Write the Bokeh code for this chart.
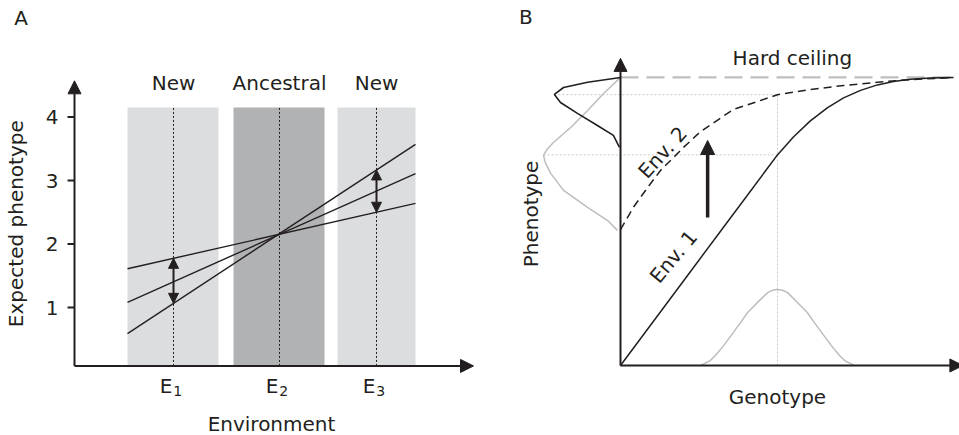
import numpy as np
from bokeh.plotting import figure
from bokeh.layouts import row
from bokeh.models import Range1d, Arrow, NormalHead, Label
from bokeh.core.properties import value
from bokeh.embed import file_html
from bokeh.resources import INLINE

FONT = "DejaVu Sans"
INK = "#231f20"
FS = "20px"
GREY_LINE = "#bdbdbd"

# ---------------- Panel A: reaction norms across environments ----------------
env_symbol = "E"
env_index = ["1", "2", "3"]
env_x = [0.99, 2.05, 3.02]
band_left = [0.53, 1.59, 2.63]
band_right = [1.44, 2.50, 3.41]
band_top = 4.15
band_names = ["New", "Ancestral", "New"]
band_fill = ["#dcdddf", "#b1b2b4", "#dcdddf"]

# three genotypes' reaction norms (phenotype at the left and right band edges)
norm_x = [0.53, 3.41]
norm_steep = [0.59, 3.57]
norm_mid = [1.08, 3.11]
norm_flat = [1.61, 2.64]

phen_ticks = [1, 2, 3, 4]
A_ORIGIN = (0.0, 0.08)        # where the two axes meet
A_END = (3.99, 4.57)          # arrow tips of the x and y axes

# ---------------- Panel B: genotype -> phenotype maps with a ceiling ----------------
ceiling = 1.0
env1_g = [0.0, 0.100, 0.200, 0.300, 0.428, 0.463, 0.510, 0.560, 0.611, 0.658, 0.708, 0.758, 0.805, 0.855, 0.914, 0.982]
env1_p = [0.0, 0.158, 0.316, 0.474, 0.676, 0.731, 0.793, 0.849, 0.895, 0.929, 0.955, 0.974, 0.986, 0.994, 0.998, 1.000]
env2_g = [0.0, 0.038, 0.080, 0.118, 0.186, 0.236, 0.333, 0.413, 0.463, 0.560, 0.658, 0.758, 0.826, 0.982]
env2_p = [0.472, 0.549, 0.618, 0.677, 0.757, 0.812, 0.889, 0.920, 0.940, 0.958, 0.972, 0.983, 0.990, 1.000]

# genotype distribution along the x axis
gdist_g = [0.236, 0.265, 0.280, 0.304, 0.333, 0.354, 0.375, 0.404, 0.434, 0.448, 0.463,
           0.478, 0.493, 0.522, 0.551, 0.572, 0.593, 0.622, 0.646, 0.661, 0.690]
gdist_h = [0.000, 0.017, 0.035, 0.069, 0.115, 0.149, 0.184, 0.219, 0.253, 0.261, 0.264,
           0.261, 0.253, 0.219, 0.184, 0.149, 0.115, 0.069, 0.035, 0.017, 0.000]

# phenotype distributions drawn sideways against the y axis
pd1_p = [1.000, 0.944, 0.885, 0.826, 0.774, 0.750, 0.729, 0.705, 0.667, 0.608, 0.549, 0.503, 0.469]
pd1_w = [0.000, -0.050, -0.097, -0.147, -0.198, -0.217, -0.227, -0.222, -0.206, -0.168, -0.097, -0.038, -0.009]
pd2_p = [1.000, 0.983, 0.965, 0.941, 0.913, 0.875, 0.833, 0.799, 0.757]
pd2_w = [0.000, -0.097, -0.168, -0.195, -0.177, -0.127, -0.068, -0.021, -0.003]

g_mean = 0.463
shift_g = 0.257
shift_from, shift_to = 0.514, 0.781
B_AXIS_TOP = 1.066
B_AXIS_RIGHT = 1.01


def label(p, x, y, text, align="center", baseline="middle", angle=0.0, size=FS):
    p.add_layout(Label(x=x, y=y, text=text, text_font=FONT, text_font_size=size,
                       text_color=INK, text_align=align, text_baseline=baseline,
                       angle=angle, angle_units="deg"))


def head(size):
    return NormalHead(size=size, fill_color=INK, line_color=INK, line_width=1)


def bare(p):
    p.axis.visible = False
    p.grid.visible = False
    p.outline_line_color = None
    p.background_fill_color = "white"


# ---------------- build panel A ----------------
pa = figure(width=480, height=435, x_range=Range1d(-0.74, 4.06), y_range=Range1d(-1.0157, 5.835),
            output_backend="svg", toolbar_location=None, min_border=0)
bare(pa)

pa.quad(left=band_left, right=band_right, bottom=A_ORIGIN[1], top=band_top,
        fill_color=band_fill, line_color=None)
pa.segment(x0=env_x, y0=[A_ORIGIN[1]] * 3, x1=env_x, y1=[band_top] * 3,
           line_color=INK, line_width=1, line_dash="2 2")
pa.multi_line(xs=[norm_x] * 3, ys=[norm_steep, norm_mid, norm_flat],
              line_color=INK, line_width=1.4)

for ex in (env_x[0], env_x[2]):
    a = float(np.interp(ex, norm_x, norm_flat))
    b = float(np.interp(ex, norm_x, norm_steep))
    pa.add_layout(Arrow(x_start=ex, y_start=min(a, b), x_end=ex, y_end=max(a, b),
                        start=head(10), end=head(10), line_color=INK, line_width=2))

# axes with arrow tips
pa.add_layout(Arrow(x_start=A_ORIGIN[0], y_start=A_ORIGIN[1], x_end=A_ORIGIN[0], y_end=A_END[1],
                    end=head(13), line_color=INK, line_width=2))
pa.add_layout(Arrow(x_start=A_ORIGIN[0], y_start=A_ORIGIN[1], x_end=A_END[0], y_end=A_ORIGIN[1],
                    end=head(13), line_color=INK, line_width=2))

# y ticks and tick labels
pa.segment(x0=[-0.07] * len(phen_ticks), x1=[0.0] * len(phen_ticks), y0=phen_ticks, y1=phen_ticks,
           line_color=INK, line_width=2)
pa.text(x=[-0.16] * len(phen_ticks), y=phen_ticks, text=[str(t) for t in phen_ticks],
        text_font=value(FONT), text_font_size=FS, text_color=INK,
        text_align="right", text_baseline="middle")

# environment tick labels with subscripts
pa.text(x=[x - 0.01 for x in env_x], y=[-0.236] * 3, text=[env_symbol] * 3,
        text_font=value(FONT), text_font_size=FS, text_color=INK,
        text_align="right", text_baseline="middle")
pa.text(x=[x - 0.002 for x in env_x], y=[-0.31] * 3, text=env_index,
        text_font=value(FONT), text_font_size="14px", text_color=INK,
        text_align="left", text_baseline="middle")

label(pa, 1.97, -0.827, "Environment")
label(pa, -0.585, 2.32, "Expected phenotype", angle=90)
for x, name in zip(env_x, band_names):
    label(pa, x, 4.528, name)
label(pa, -0.535, 5.567, "A")

# ---------------- build panel B ----------------
pb = figure(width=479, height=435, x_range=Range1d(-0.413, 1.0), y_range=Range1d(-0.243, 1.267),
            output_backend="svg", toolbar_location=None, min_border=0)
bare(pb)

# guide lines from the mean genotype to the two phenotype peaks
p1_mean = float(np.interp(g_mean, env1_g, env1_p))
p2_mean = float(np.interp(g_mean, env2_g, env2_p))
pb.segment(x0=[min(pd2_w), min(pd1_w), g_mean], y0=[p2_mean, p1_mean, 0],
           x1=[g_mean, g_mean, g_mean], y1=[p2_mean, p1_mean, p2_mean],
           line_color="#c8c8c8", line_width=1, line_dash="2 2")

pb.line(gdist_g, gdist_h, line_color=GREY_LINE, line_width=1.5)
pb.line(pd1_w, pd1_p, line_color=GREY_LINE, line_width=1.5)
pb.line(pd2_w, pd2_p, line_color=INK, line_width=1.6)

pb.line([0, env1_g[-1]], [ceiling, ceiling], line_color="#bfbfbf", line_width=2.2, line_dash="18 8")
pb.line(env1_g, env1_p, line_color=INK, line_width=1.5)
pb.line(env2_g, env2_p, line_color=INK, line_width=1.5, line_dash="8 5")

# axes
pb.add_layout(Arrow(x_start=0, y_start=0, x_end=0, y_end=B_AXIS_TOP,
                    end=head(13), line_color=INK, line_width=2))
pb.add_layout(Arrow(x_start=0, y_start=0, x_end=B_AXIS_RIGHT, y_end=0,
                    end=head(13), line_color=INK, line_width=2))

# environmental shift
pb.add_layout(Arrow(x_start=shift_g, y_start=shift_from, x_end=shift_g, y_end=shift_to,
                    end=head(14), line_color=INK, line_width=3.5))

label(pb, -0.279, 1.210, "B")
label(pb, 0.507, 1.068, "Hard ceiling")
label(pb, -0.265, 0.526, "Phenotype", angle=90)
label(pb, 0.463, -0.109, "Genotype")
label(pb, 0.124, 0.740, "Env. 2", angle=48)
label(pb, 0.156, 0.378, "Env. 1", angle=50)

layout = row(pa, pb)
open("out.html", "w").write(file_html(layout, INLINE))
